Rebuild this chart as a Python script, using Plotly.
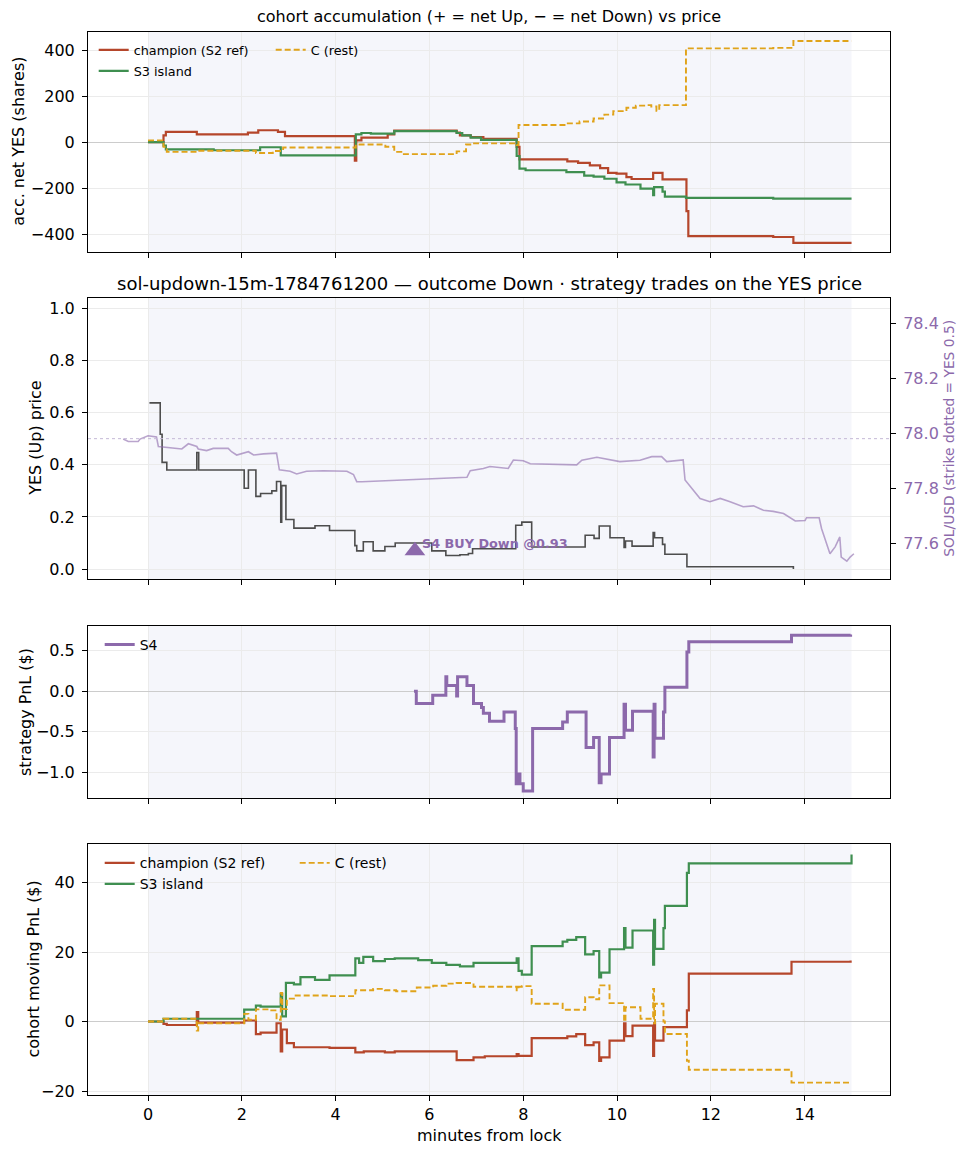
import plotly.graph_objects as go

# ---------------- data ----------------
# panel 1: accumulated net YES shares
champ_acc_t = [0, 0.33, 0.38, 1.04, 2.13, 2.35, 2.77, 2.92, 4.41, 4.44, 4.55, 5.11, 5.25, 6.58, 6.65, 6.88, 7.15,
               7.86, 7.92, 8.94, 9.17, 9.42, 9.64, 9.81, 9.99, 10.2, 10.31, 10.77, 10.97, 11.48, 11.52, 13.33, 13.76, 15.0]
champ_acc_v = [0, 30, 45, 34, 42, 52, 45, 26, -80, 8, 20, 34, 50, 42, 30, 22, 15,
               -20, -75, -83, -90, -101, -113, -133, -137, -152, -160, -133, -162, -300, -408, -412, -438, -438]

s3_acc_t = [0, 0.33, 0.38, 1.4, 2.39, 2.83, 4.43, 4.55, 4.75, 5.25, 6.58, 6.7, 6.88, 7.1,
            7.86, 7.92, 8.05, 8.92, 9.3, 9.5, 9.73, 9.99, 10.18, 10.5, 10.77, 10.79, 10.97, 11.02, 11.47, 13.33, 15.0]
s3_acc_v = [0, -15, -31, -35, -22, -57, 34, 40, 37, 48, 40, 30, 20, 10,
            -60, -115, -122, -130, -145, -150, -159, -175, -184, -202, -230, -195, -215, -237, -242, -245, -245]

c_acc_t = [0, 0.33, 0.4, 1.04, 2.3, 2.66, 2.88, 4.43, 5.06, 5.25, 5.4, 6.58, 6.78, 6.9,
           7.86, 7.9, 8.92, 9.2, 9.5, 9.73, 9.92, 10.2, 10.4, 10.63, 10.73, 10.84, 10.9, 11.47, 13.33, 13.76, 15.0]
c_acc_v = [8, -20, -42, -37, -47, -38, -23, -10, -20, -42, -52, -40, -10, -5,
           -12, 75, 82, 90, 103, 120, 135, 150, 159, 161, 155, 137, 161, 408, 410, 440, 440]

# panel 2: YES price and SOL/USD
yes_t = [0.03, 0.26, 0.3, 0.4, 1.04, 1.08, 2.05, 2.14, 2.3, 2.4, 2.64, 2.74, 2.83, 2.85, 2.94, 3.11, 3.56, 3.87,
         4.41, 4.45, 4.59, 4.8, 5.05, 5.27, 6.05, 6.35, 6.65, 6.83, 6.92, 7.84, 7.97, 8.18, 9.32, 9.51, 9.62,
         9.85, 10.15, 10.18, 10.32, 10.77, 10.8, 10.97, 11.02, 11.49, 13.76]
yes_p = [0.637, 0.517, 0.409, 0.38, 0.447, 0.38, 0.31, 0.38, 0.279, 0.29, 0.30, 0.336, 0.18, 0.32, 0.19, 0.157, 0.166, 0.148,
         0.09, 0.07, 0.105, 0.07, 0.087, 0.10, 0.07, 0.052, 0.055, 0.06, 0.078, 0.168, 0.18, 0.085, 0.13, 0.118, 0.165,
         0.12, 0.083, 0.108, 0.088, 0.14, 0.12, 0.095, 0.057, 0.009, 0.0]

sol_t = [-0.53, -0.42, -0.21, -0.17, 0.0, 0.18, 0.22, 0.72, 0.86, 1.04, 1.07, 1.25, 1.39, 1.71, 1.78, 1.89, 2.14, 2.25,
         2.46, 2.74, 2.8, 3.03, 3.17, 3.38, 3.74, 4.24, 4.38, 4.45, 4.56, 6.8, 6.87, 7.15, 7.29, 7.68, 7.79, 8.0,
         8.15, 9.14, 9.25, 9.57, 10.06, 10.49, 10.74, 10.95, 11.06, 11.41, 11.45, 11.56, 11.77, 11.98, 12.2, 12.41,
         12.69, 12.91, 13.12, 13.33, 13.55, 13.8, 14.01, 14.04, 14.31, 14.36, 14.54, 14.65, 14.75, 14.78, 14.9,
         14.97, 15.05]
sol_usd = [77.979, 77.970, 77.970, 77.979, 77.991, 77.987, 77.952, 77.943, 77.962, 77.952, 77.943, 77.937, 77.945,
           77.945, 77.933, 77.921, 77.933, 77.921, 77.925, 77.928, 77.867, 77.862, 77.852, 77.862, 77.864, 77.862,
           77.850, 77.824, 77.824, 77.840, 77.864, 77.872, 77.879, 77.872, 77.903, 77.900, 77.889, 77.885, 77.902,
           77.913, 77.897, 77.902, 77.915, 77.915, 77.897, 77.903, 77.830, 77.806, 77.763, 77.751, 77.763, 77.751,
           77.733, 77.736, 77.720, 77.716, 77.708, 77.681, 77.683, 77.693, 77.693, 77.654, 77.562, 77.587, 77.623,
           77.550, 77.535, 77.550, 77.562]
strike_usd = 77.98
yes_strike = 0.5

trade_t = [5.69]
trade_p = [0.07]
trade_label = "S4 BUY Down @0.93"

# panel 3: S4 strategy PnL
s4_t = [5.67, 5.72, 6.07, 6.35, 6.37, 6.58, 6.6, 6.8, 6.94, 7.11, 7.15, 7.28, 7.59, 7.83, 7.85, 7.9, 7.93, 8.0,
        8.2, 8.84, 8.94, 9.34, 9.5, 9.62, 9.66, 9.84, 10.15, 10.18, 10.33, 10.77, 10.79, 10.81, 10.99, 11.02,
        11.49, 11.53, 13.72, 14.98]
s4_pnl = [0.0, -0.15, -0.05, 0.18, 0.07, -0.06, 0.18, 0.07, -0.15, -0.2, -0.27, -0.37, -0.255, -0.46, -1.14, -1.02,
          -1.14, -1.23, -0.46, -0.38, -0.255, -0.695, -0.57, -1.13, -1.02, -0.57, -0.16, -0.48, -0.247, -0.81,
          -0.16, -0.58, -0.255, 0.05, 0.485, 0.61, 0.69, 0.70]

# panel 4: cohort moving PnL
champ_pnl_t = [0, 0.33, 0.4, 1.04, 1.07, 2.05, 2.3, 2.4, 2.74, 2.83, 2.86, 2.96, 3.11, 3.87, 4.42, 4.6, 5.05, 5.26,
               6.58, 6.94, 7.18, 7.86, 7.9, 8.18, 8.94, 9.13, 9.32, 9.5, 9.62, 9.66, 9.84, 10.15, 10.18, 10.33,
               10.77, 10.79, 10.81, 10.99, 11.49, 11.53, 13.72, 14.98]
champ_pnl = [0, -0.7, -1.0, 2.7, -0.3, 0.3, -3.6, -3.2, -0.5, -8.6, -2.3, -6.2, -7.4, -7.6, -8.9, -8.6, -8.9, -8.6,
             -11.1, -10.3, -10.0, -9.4, -9.9, -4.8, -4.3, -3.6, -6.8, -6.0, -11.3, -10.3, -5.5, -0.5, -4.2, -1.2,
             -9.9, -0.5, -5.5, -1.6, 3.2, 13.8, 17.2, 17.6]

s3_pnl_t = [0, 0.33, 2.05, 2.3, 2.4, 2.83, 2.86, 2.94, 3.11, 3.25, 3.56, 3.87, 4.42, 4.5, 4.59, 4.8, 5.05, 5.26,
            5.76, 6.05, 6.36, 6.65, 6.94, 7.86, 7.9, 7.97, 8.18, 8.84, 8.94, 9.13, 9.32, 9.5, 9.62, 9.66, 9.84,
            10.15, 10.18, 10.33, 10.77, 10.79, 10.81, 10.99, 11.02, 11.49, 11.53, 14.98, 15.0]
s3_pnl = [0, 0.8, 3.4, 4.6, 4.3, 8.0, 1.5, 11.1, 10.7, 12.8, 12.0, 13.3, 18.2, 16.9, 18.6, 17.4, 18.0, 18.2,
          17.7, 16.9, 16.3, 15.9, 16.9, 18.2, 14.6, 13.5, 21.7, 23.0, 23.5, 24.3, 19.3, 20.3, 12.7, 14.1, 20.8,
          26.9, 21.3, 26.2, 16.4, 29.3, 20.9, 26.9, 33.3, 42.8, 45.5, 45.5, 48.1]

c_pnl_t = [0, 0.33, 1.04, 1.07, 2.05, 2.14, 2.3, 2.6, 2.74, 2.83, 2.86, 2.96, 3.11, 3.87, 4.42, 4.8, 5.05, 5.29,
           5.73, 6.08, 6.36, 6.58, 6.94, 7.86, 7.9, 7.97, 8.18, 8.84, 9.32, 9.5, 9.62, 9.84, 10.15, 10.18, 10.5,
           10.77, 10.79, 10.81, 10.99, 11.02, 11.49, 11.53, 13.72, 14.98]
c_pnl = [0, 0.8, -2.6, -0.5, 2.2, 0.5, 3.5, 3.2, 0.5, 8.2, 3.6, 6.6, 7.5, 7.3, 9.0, 9.4, 9.0, 8.7,
         9.8, 10.3, 10.9, 11.1, 10.0, 9.0, 10.0, 10.2, 5.1, 3.4, 7.0, 6.4, 10.4, 5.3, 0.0, 4.1, 0.8,
         9.4, -0.5, 5.1, 0.0, -3.6, -11.3, -13.9, -17.6, -17.6]

x_ticks = [0, 2, 4, 6, 8, 10, 12, 14]
window = [0, 15]

# ---------------- style ----------------
RED = "#b5462b"
GREEN = "#3f8f50"
GOLD = "#e0a31a"
PURPLE = "#8c69ab"
SOL_C = "rgba(140,105,171,0.6)"
GRAY = "#4d4d4d"
GRID = "#ebebeb"
SHADE = "#f5f6fb"
FONT = "DejaVu Sans"

# page places the figure 8px in from the top-left corner
OFF = 8
FW, FH = 960, 1148
ML, MR, MT, MB = 80, 78, 24, 61
PW = FW - ML - MR
PH = FH - MT - MB


def py(ypx):
    """reference-screenshot y pixel -> paper y"""
    return (FH - MB - (ypx - OFF)) / PH


def px(xpx):
    """reference-screenshot x pixel -> paper x"""
    return (xpx - OFF - ML) / PW


doms = {
    1: [py(251.7), 1.0],
    2: [py(579.3), py(298.3)],
    3: [py(797.7), py(626)],
    4: [0.0, py(844)],
}

fig = go.Figure()


def step(x, y, name, color, xa, ya, width=2.2, dash="solid", legend=None, show=False):
    fig.add_trace(go.Scatter(
        x=x, y=y, mode="lines", name=name, line=dict(color=color, width=width, dash=dash, shape="hv"),
        xaxis=xa, yaxis=ya, showlegend=show, legend=legend))


# panel 1
step(champ_acc_t, champ_acc_v, "champion (S2 ref)", RED, "x", "y", legend="legend", show=True)
step(s3_acc_t, s3_acc_v, "S3 island", GREEN, "x", "y", legend="legend2", show=True)
step(c_acc_t, c_acc_v, "C (rest)", GOLD, "x", "y", width=1.9, dash="6px,3px", legend="legend3", show=True)

# panel 2
fig.add_trace(go.Scatter(x=sol_t, y=sol_usd, mode="lines", name="SOL/USD",
                         line=dict(color=SOL_C, width=1.6), xaxis="x2", yaxis="y5", showlegend=False))
step(yes_t, yes_p, "YES price", GRAY, "x2", "y2", width=1.6)
fig.add_trace(go.Scatter(x=trade_t, y=trade_p, mode="markers", name="S4 trade",
                         marker=dict(symbol="triangle-up", size=18, color=PURPLE, line=dict(width=0)),
                         xaxis="x2", yaxis="y2", showlegend=False))

# panel 3
step(s4_t, s4_pnl, "S4", PURPLE, "x3", "y3", width=3.0, legend="legend4", show=True)

# panel 4
step(champ_pnl_t, champ_pnl, "champion (S2 ref)", RED, "x4", "y4", legend="legend5", show=True)
step(s3_pnl_t, s3_pnl, "S3 island", GREEN, "x4", "y4", legend="legend6", show=True)
step(c_pnl_t, c_pnl, "C (rest)", GOLD, "x4", "y4", width=1.9, dash="6px,3px", legend="legend7", show=True)

# shading & strike
shapes = []
for i, xa in enumerate(["x", "x2", "x3", "x4"]):
    ya = "y" if i == 0 else f"y{i + 1}"
    shapes.append(dict(type="rect", xref=xa, yref=f"{ya} domain", x0=window[0], x1=window[1], y0=0, y1=1,
                       fillcolor=SHADE, line=dict(width=0), layer="below"))
shapes.append(dict(type="line", xref="x2 domain", yref="y2", x0=0, x1=1, y0=yes_strike, y1=yes_strike,
                   line=dict(color="#c4b8d6", width=1, dash="dot"), layer="above"))

xcommon = dict(range=[-1.28, 15.82], tickvals=x_ticks, ticks="outside", ticklen=5, tickcolor="black",
               showline=True, linecolor="black", linewidth=1, mirror=True, showgrid=True, gridcolor=GRID,
               gridwidth=0.8, zeroline=False, tickfont=dict(size=16, color="black"))
ycommon = dict(ticks="outside", ticklen=5, tickcolor="black", showline=True, linecolor="black", linewidth=1,
               mirror=True, showgrid=True, gridcolor=GRID, gridwidth=0.8, tickfont=dict(size=16, color="black"),
               automargin=False, ticklabelstandoff=4)


def label(text, xc, yc, angle=-90, size=16, color="black"):
    return dict(text=text, xref="paper", yref="paper", x=px(xc), y=py(yc), xanchor="center", yanchor="middle",
                textangle=angle, showarrow=False, font=dict(size=size, color=color))


layout = dict(
    width=FW, height=FH, margin=dict(l=ML, r=MR, t=MT, b=MB),
    paper_bgcolor="white", plot_bgcolor="white",
    font=dict(family=FONT, size=16, color="black"),
    xaxis=dict(xcommon, anchor="y", domain=[0, 1], showticklabels=False),
    xaxis2=dict(xcommon, anchor="y2", domain=[0, 1], showticklabels=False, matches="x"),
    xaxis3=dict(xcommon, anchor="y3", domain=[0, 1], showticklabels=False, matches="x"),
    xaxis4=dict(xcommon, anchor="y4", domain=[0, 1], matches="x"),
    yaxis=dict(ycommon, anchor="x", domain=doms[1], range=[-476, 479], tickvals=[-400, -200, 0, 200, 400],
               zeroline=True, zerolinecolor="#cccccc", zerolinewidth=1.2),
    yaxis2=dict(ycommon, anchor="x2", domain=doms[2], range=[-0.039, 1.038], tickvals=[0, 0.2, 0.4, 0.6, 0.8, 1.0],
                tickformat=".1f", zeroline=False),
    yaxis3=dict(ycommon, anchor="x3", domain=doms[3], range=[-1.313, 0.805], tickvals=[-1.0, -0.5, 0.0, 0.5],
                tickformat=".1f", zeroline=True, zerolinecolor="#cccccc", zerolinewidth=1.2),
    yaxis4=dict(ycommon, anchor="x4", domain=doms[4], range=[-21.15, 51.1], tickvals=[-20, 0, 20, 40],
                zeroline=True, zerolinecolor="#cccccc", zerolinewidth=1.2),
    yaxis5=dict(anchor="x2", overlaying="y2", side="right", range=[77.469, 78.491],
                tickvals=[77.6, 77.8, 78.0, 78.2, 78.4], tickformat=".1f", ticks="outside", ticklen=5,
                tickcolor="black", showline=True, linecolor="black", linewidth=1, showgrid=False, zeroline=False,
                tickfont=dict(size=16, color=PURPLE), automargin=False, ticklabelstandoff=4),
    shapes=shapes,
    annotations=[
        dict(text="cohort accumulation (+ = net Up, \u2212 = net Down) vs price", xref="paper", yref="paper",
             x=px(489), y=py(17), xanchor="center", yanchor="middle", showarrow=False, font=dict(size=16)),
        dict(text="sol-updown-15m-1784761200 \u2014 outcome Down \u00b7 strategy trades on the YES price",
             xref="paper", yref="paper", x=px(489), y=py(283), xanchor="center", yanchor="middle",
             showarrow=False, font=dict(size=18)),
        dict(text="<b>" + trade_label + "</b>", xref="x2", yref="y2", x=trade_t[0] + 0.1, y=0.097,
             xanchor="left", yanchor="middle", showarrow=False, font=dict(size=12.8, color=PURPLE)),
        label("acc. net YES (shares)", 19, 141.7),
        label("YES (Up) price", 36, 438.8),
        label("strategy PnL ($)", 25, 712),
        label("cohort moving PnL ($)", 33, 969.5),
        label("SOL/USD (strike dotted = YES 0.5)", 949, 438.8, size=13.8, color=PURPLE),
        label("minutes from lock", 489, 1135, angle=0),
    ],
)


def leg(xpx_text, ypx_center, size):
    return dict(x=px(xpx_text - 42), y=py(ypx_center), xanchor="left", yanchor="middle", xref="paper",
                yref="paper", bgcolor="rgba(0,0,0,0)", borderwidth=0, font=dict(size=size, color="black"),
                itemwidth=30)


layout["legend"] = leg(135.7, 50, 12.8)
layout["legend2"] = leg(135.7, 71, 12.8)
layout["legend3"] = leg(312.7, 50, 12.8)
layout["legend4"] = leg(141.7, 645, 14)
layout["legend5"] = leg(141.7, 863.3, 14)
layout["legend6"] = leg(141.7, 884.3, 14)
layout["legend7"] = leg(336.7, 863.3, 14)

fig.update_layout(**layout)
fig.write_html("out.html")
